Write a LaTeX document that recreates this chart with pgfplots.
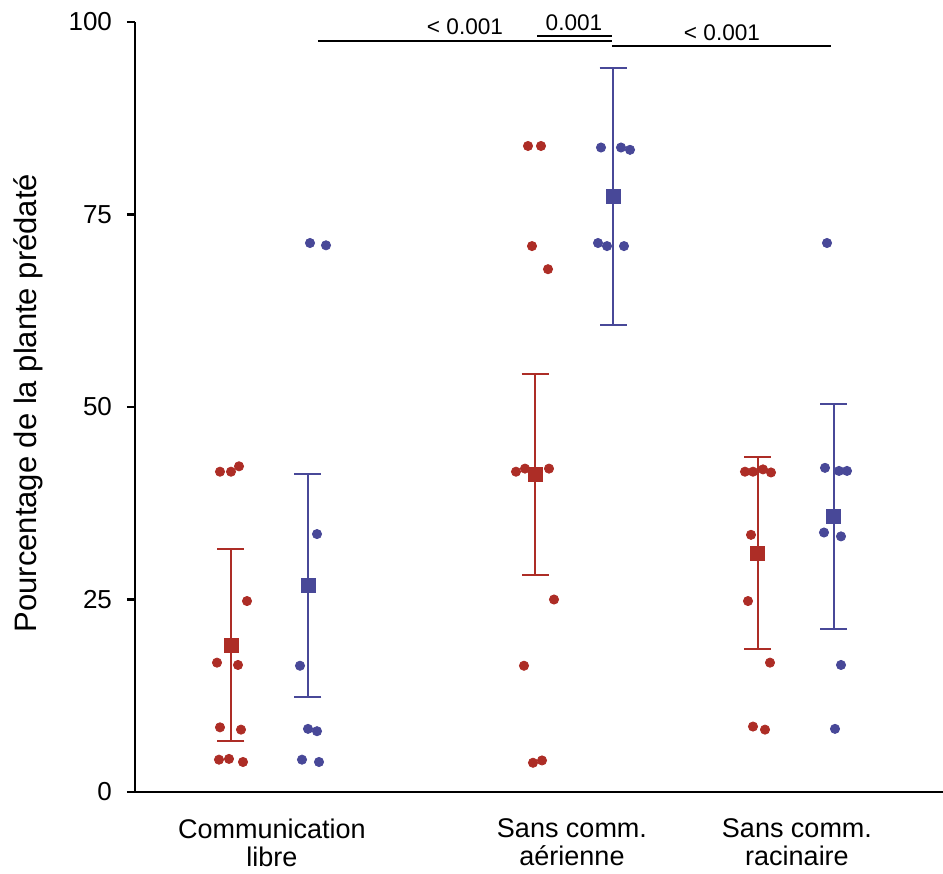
\documentclass[border=0pt]{standalone}
\usepackage{pgfplots}
\pgfplotsset{compat=1.18}
\usepackage{fontspec}
\setmainfont{Liberation Sans}
\definecolor{predred}{HTML}{AD2D26}
\definecolor{predblue}{HTML}{484898}

\begin{document}
\begin{tikzpicture}
\begin{axis}[
    scale only axis,
    width=404pt, height=385pt,
    xmin=135, xmax=943,
    ymin=0, ymax=100,
    clip=false,
    axis x line=bottom, axis y line=left,
    axis line style={-, line width=1.2pt},
    ytick={0,25,50,75,100},
    xtick={272,572,797},
    xticklabels={Communication\\libre, Sans comm.\\a\'erienne, Sans comm.\\racinaire},
    x tick label style={align=center, font=\fontsize{13.5}{14}\selectfont, yshift=-6pt},
    major x tick style={draw=none},
    tick align=outside,
    major tick length=4pt,
    y tick style={line width=1.2pt, black},
    y tick label style={font=\fontsize{13}{13}\selectfont, xshift=-4pt, /pgf/number format/assume math mode=true},
    ylabel={Pourcentage de la plante pr\'edat\'e},
    ylabel style={font=\fontsize{15.5}{16}\selectfont, at={(rel axis cs:-0.1324,0.505)}, anchor=center},
    error bars/error bar style={line width=1pt},
]
% group 1 - red points
\addplot[only marks, mark=*, mark size=2.3pt, color=predred] coordinates {
 (220,41.6) (231,41.6) (239,42.3) (247,24.8) (217,16.8) (238,16.5)
 (220,8.4) (241,8.1) (219,4.2) (229,4.3) (243,3.9)
};
% group 1 - blue points
\addplot[only marks, mark=*, mark size=2.3pt, color=predblue] coordinates {
 (310,71.3) (326,71.0) (317,33.5) (300,16.4) (308,8.2) (317,7.9) (302,4.2) (319,3.9)
};
% group 2 - red points
\addplot[only marks, mark=*, mark size=2.3pt, color=predred] coordinates {
 (528,83.9) (541,83.9) (532,70.9) (548,67.9) (516,41.6) (525,42.0) (549,42.0)
 (554,25.0) (524,16.4) (533,3.8) (542,4.1)
};
% group 2 - blue points
\addplot[only marks, mark=*, mark size=2.3pt, color=predblue] coordinates {
 (601,83.7) (621,83.7) (630,83.4) (598,71.3) (607,70.9) (624,70.9)
};
% group 3 - red points
\addplot[only marks, mark=*, mark size=2.3pt, color=predred] coordinates {
 (745,41.6) (753,41.6) (763,41.9) (771,41.5) (751,33.4) (748,24.8) (770,16.8)
 (753,8.5) (765,8.1)
};
% group 3 - blue points
\addplot[only marks, mark=*, mark size=2.3pt, color=predblue] coordinates {
 (827,71.3) (825,42.1) (839,41.7) (847,41.7) (824,33.7) (841,33.2) (841,16.5) (835,8.2)
};
% means with error bars
\addplot[only marks, mark=square*, mark size=3.5pt, color=predred,
    error bars/.cd, y dir=both, y explicit, error mark=|,
    error mark options={mark size=6.75pt, line width=1pt, color=predred}]
 coordinates {
 (231,19.1) +- (0,12.5)
 (535,41.2) +- (0,13.05)
 (757.5,31.0) +- (0,12.45)
};
\addplot[only marks, mark=square*, mark size=3.5pt, color=predblue,
    error bars/.cd, y dir=both, y explicit, error mark=|,
    error mark options={mark size=6.75pt, line width=1pt, color=predblue}]
 coordinates {
 (308,26.8) +- (0,14.5)
 (613,77.3) +- (0,16.7)
 (833.5,35.8) +- (0,14.6)
};
% significance bars
\addplot[black, line width=1.2pt] coordinates {(318,97.53) (612,97.53)};
\addplot[black, line width=1.2pt] coordinates {(537,98.18) (612,98.18)};
\addplot[black, line width=1.2pt] coordinates {(612,96.88) (831,96.88)};
\node[font=\fontsize{11.3}{12}\selectfont] at (axis cs:465,99.35) {< 0.001};
\node[font=\fontsize{11.3}{12}\selectfont] at (axis cs:574,99.9) {0.001};
\node[font=\fontsize{11.3}{12}\selectfont] at (axis cs:722,98.6) {< 0.001};
\coordinate (bl) at (axis cs:0,-10.52);
\coordinate (tr) at (axis cs:943,102.86);
\end{axis}
\pgfresetboundingbox
\path[use as bounding box] (bl) rectangle (tr);
\end{tikzpicture}
\end{document}
